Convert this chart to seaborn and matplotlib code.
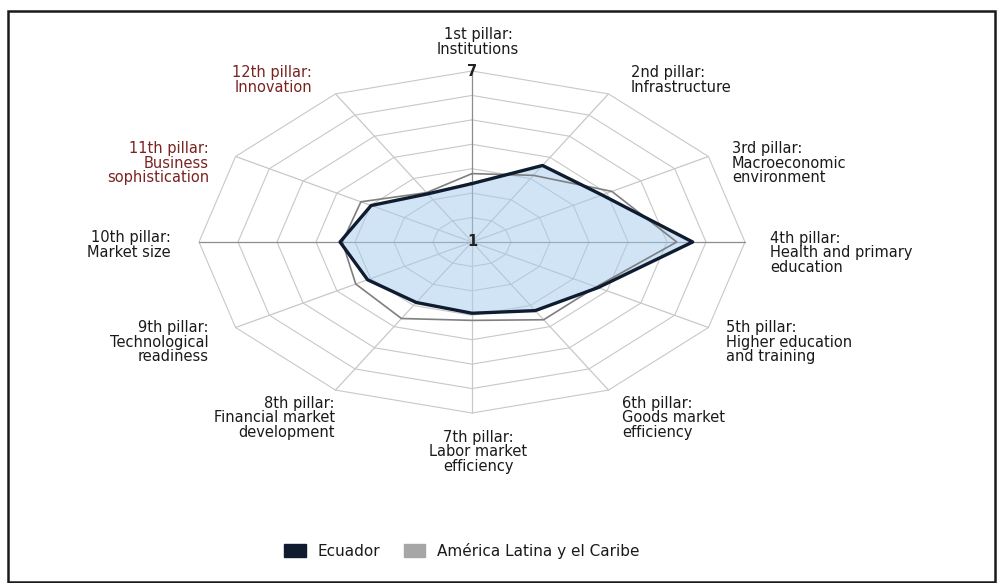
import numpy as np
import matplotlib
matplotlib.use("Agg")
import matplotlib.pyplot as plt
import seaborn as sns
from matplotlib.patches import Patch, Rectangle

# pillar labels, clockwise from the top
pillars = ["1st pillar:\nInstitutions",
           "2nd pillar:\nInfrastructure",
           "3rd pillar:\nMacroeconomic\nenvironment",
           "4th pillar:\nHealth and primary\neducation",
           "5th pillar:\nHigher education\nand training",
           "6th pillar:\nGoods market\nefficiency",
           "7th pillar:\nLabor market\nefficiency",
           "8th pillar:\nFinancial market\ndevelopment",
           "9th pillar:\nTechnological\nreadiness",
           "10th pillar:\nMarket size",
           "11th pillar:\nBusiness\nsophistication",
           "12th pillar:\nInnovation"]

# scores (1-7 scale)
ecuador = [3.05, 4.1, 4.3, 5.85, 4.2, 3.78, 3.5, 3.45, 3.65, 3.9, 3.56, 2.95]
latam = [3.4, 3.7, 4.55, 5.5, 4.15, 4.15, 3.75, 4.1, 3.95, 3.85, 3.82, 3.0]

series_names = ["Ecuador", "América Latina y el Caribe"]
scale_min, scale_max = 1, 7
n_rings = 7

sns.set_theme(style="white")
plt.rcParams["font.family"] = ["DejaVu Sans"]

fig = plt.figure(figsize=(10, 5.83), dpi=100)
W, H = 1000, 583

# radar stretched horizontally like the original picture
cx, cy, rx, ry = 472, 242, 273, 171
ax = fig.add_axes([(cx - rx) / W, (H - cy - ry) / H, 2 * rx / W, 2 * ry / H],
                  projection="polar")
ax.set_theta_zero_location("N")
ax.set_theta_direction(-1)
ax.set_ylim(scale_min, scale_max)
ax.set_aspect("auto")
ax.grid(False)
ax.set_xticks([])
ax.set_yticks([])
ax.spines["polar"].set_visible(False)
ax.patch.set_alpha(0)

theta = np.linspace(0, 2 * np.pi, len(pillars), endpoint=False)
closed = np.append(theta, theta[0])

# dodecagon rings
for v in np.linspace(scale_min, scale_max, n_rings + 1)[1:]:
    ax.plot(closed, [v] * len(closed), color="#c8c8c8", lw=0.8, zorder=1, clip_on=False)
# spokes
for i, th in enumerate(theta):
    c = "#8c8c8c" if i in (0, 3, 9) else "#c8c8c8"
    ax.plot([th, th], [scale_min, scale_max], color=c, lw=0.9, zorder=1, clip_on=False)

ecu = np.append(ecuador, ecuador[0])
lac = np.append(latam, latam[0])
ax.fill(closed, ecu, color="#a3cbec", alpha=0.5, zorder=2, lw=0)
ax.plot(closed, lac, color="#7f7f7f", lw=1.2, zorder=3)
ax.plot(closed, ecu, color="#0f1c30", lw=2.4, zorder=4)

ax.text(0, scale_max, "7", ha="center", va="center", fontsize=10.5,
        fontweight="bold", color="#222222", zorder=5)
ax.text(0, scale_min, "1", ha="center", va="center", fontsize=10.5,
        fontweight="bold", color="#222222", zorder=5)

# label anchors in pixels (x, y, alignment)
label_pos = [(478, 42, "center"), (631, 80, "left"), (732, 163, "left"),
             (770, 253, "left"), (726, 342, "left"), (622, 418, "left"),
             (478, 452, "center"), (335, 418, "right"), (209, 342, "right"),
             (171, 245, "right"), (209, 163, "right"), (312, 80, "right")]
red_labels = (10, 11)
for i, (lab, (px, py, ha)) in enumerate(zip(pillars, label_pos)):
    fig.text(px / W, 1 - py / H, lab, ha=ha, va="center", fontsize=10.5,
             linespacing=0.95, multialignment=ha,
             color="#7a2320" if i in red_labels else "#1a1a1a")

handles = [Patch(color="#0f1c30", label=series_names[0]),
           Patch(color="#a6a6a6", label=series_names[1])]
fig.legend(handles=handles, loc="center", bbox_to_anchor=(0.462, 1 - 551 / H),
           ncol=2, frameon=False, handlelength=1.4, handleheight=0.9,
           columnspacing=1.5, handletextpad=0.8, fontsize=11,
           labelcolor="#1a1a1a")

fig.add_artist(Rectangle((0.008, 0.002), 0.987, 1 - 11 / H - 0.002,
                         transform=fig.transFigure, fill=False,
                         edgecolor="#1a1a1a", lw=1.8))

fig.savefig("out.png", dpi=100)
